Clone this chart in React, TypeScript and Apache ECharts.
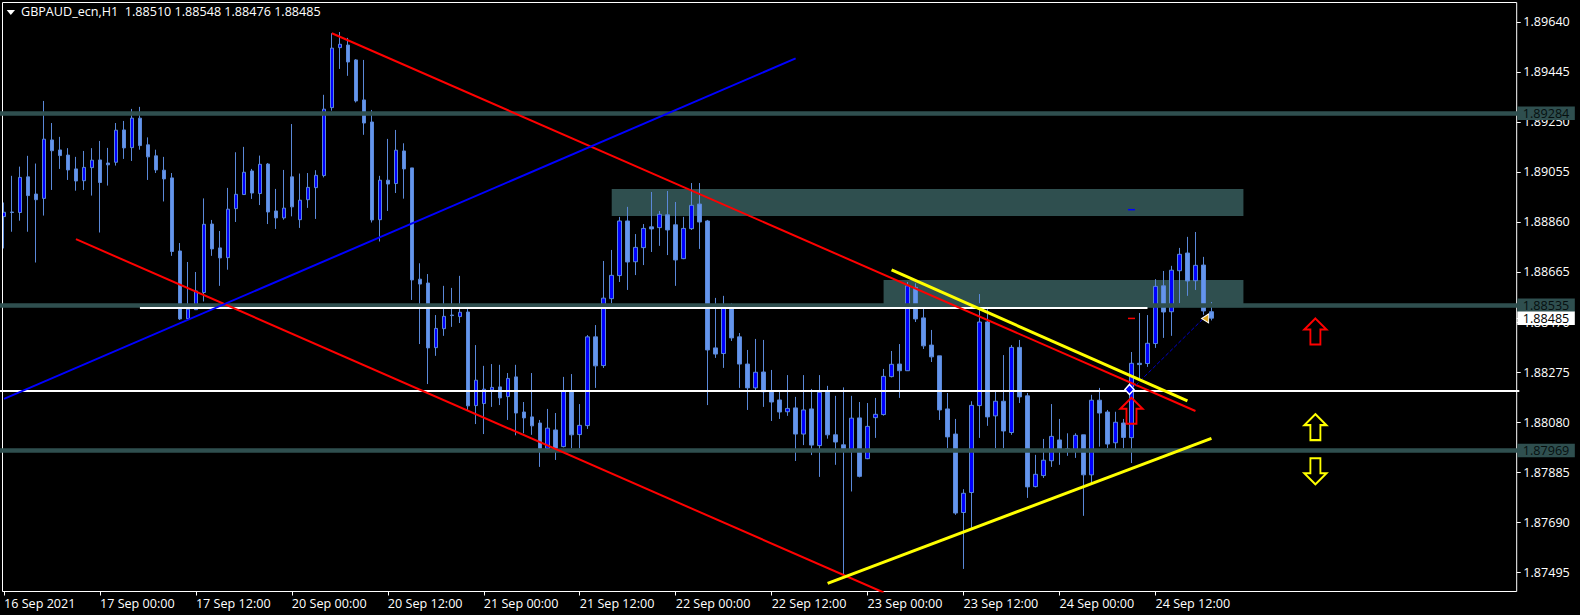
import React, { useEffect, useRef } from "react";
import * as echarts from "echarts";

const opens = [
1.88881,1.88899,1.88897,1.89036,1.88969,1.88952,1.89180,1.89141,1.89121,1.89067,
1.89021,1.89072,1.89102,1.89090,1.89093,1.89219,1.89150,1.89265,1.89161,1.89118,
1.89062,1.89032,1.88747,1.88483,1.88518,1.88585,1.88852,1.88759,1.88721,1.88912,
1.88967,1.89059,1.88971,1.89086,1.88903,1.88876,1.89036,1.88869,1.88947,1.88994,
1.89041,1.89306,1.89540,1.89550,1.89492,1.89336,1.89250,1.88869,1.89023,1.89010,
1.89137,1.89071,1.88637,1.88622,1.88370,1.88444,1.88497,1.88491,1.88509,1.88144,
1.88152,1.88205,1.88217,1.88179,1.88256,1.88119,1.88100,1.88076,1.87977,1.88049,
1.87984,1.88200,1.88031,1.88066,1.88412,1.88300,1.88561,1.88651,1.88864,1.88705,
1.88760,1.88841,1.88838,1.88888,1.88849,1.88717,1.88834,1.88930,1.88864,1.88369,
1.88347,1.88530,1.88412,1.88306,1.88213,1.88275,1.88200,1.88166,1.88120,1.88135,
1.88033,1.88131,1.87988,1.88200,1.88030,1.87991,1.87971,1.88096,1.87937,1.88097,
1.88109,1.88257,1.88306,1.88280,1.88605,1.88486,1.88380,1.88338,1.88131,1.88033,
1.87727,1.87805,1.88144,1.88470,1.88104,1.88161,1.88039,1.88371,1.88182,1.87828,
1.87871,1.87929,1.88010,1.87976,1.87971,1.88030,1.87874,1.88165,1.88119,1.87999,
1.88076,1.88019,1.88309,1.88308,1.88386,1.88611,1.88510,1.88670,1.88739,1.88631,
1.88692,1.88510];

const closes = [
1.88898,1.88897,1.89034,1.88963,1.88947,1.89183,1.89138,1.89119,1.89063,1.89020,
1.89073,1.89101,1.89014,1.89083,1.89218,1.89149,1.89265,1.89158,1.89114,1.89063,
1.89028,1.88745,1.88482,1.88520,1.88591,1.88851,1.88755,1.88720,1.88910,1.88968,
1.89054,1.88973,1.89085,1.88899,1.88876,1.88914,1.88919,1.88945,1.88995,1.89042,
1.89300,1.89538,1.89553,1.89484,1.89332,1.89246,1.88868,1.89023,1.89008,1.89140,
1.89067,1.88634,1.88618,1.88369,1.88445,1.88492,1.88495,1.88508,1.88143,1.88243,
1.88208,1.88215,1.88174,1.88250,1.88115,1.88096,1.88065,1.87977,1.88056,1.87977,
1.88200,1.88030,1.88067,1.88412,1.88299,1.88563,1.88652,1.88864,1.88704,1.88761,
1.88835,1.88833,1.88890,1.88829,1.88712,1.88835,1.88925,1.88860,1.88361,1.88345,
1.88533,1.88408,1.88306,1.88213,1.88274,1.88198,1.88158,1.88119,1.88133,1.88033,
1.88127,1.87990,1.88196,1.88030,1.88002,1.87976,1.88095,1.87868,1.88063,1.88110,
1.88258,1.88305,1.88280,1.88611,1.88482,1.88377,1.88334,1.88127,1.88022,1.87725,
1.87802,1.88145,1.88470,1.88100,1.88161,1.88045,1.88371,1.88178,1.87827,1.87876,
1.87931,1.88024,1.87971,1.87966,1.88028,1.87874,1.88165,1.88115,1.87994,1.88079,
1.88020,1.88309,1.88304,1.88387,1.88609,1.88509,1.88672,1.88734,1.88630,1.88691,
1.88513,1.88485];

const lows = [
1.88757,1.88822,1.88865,1.88822,1.88702,1.88885,1.88985,1.89067,1.89024,1.88982,
1.88985,1.88963,1.88819,1.89002,1.89080,1.89106,1.89098,1.89142,1.89024,1.89051,
1.88940,1.88728,1.88478,1.88478,1.88517,1.88550,1.88728,1.88611,1.88674,1.88860,
1.88966,1.88950,1.88926,1.88852,1.88833,1.88869,1.88882,1.88837,1.88915,1.88872,
1.89034,1.89294,1.89457,1.89430,1.89326,1.89200,1.88858,1.88784,1.88903,1.88973,
1.88951,1.88556,1.88384,1.88228,1.88338,1.88416,1.88451,1.88466,1.88127,1.88072,
1.88033,1.88139,1.88146,1.88088,1.88028,1.88036,1.88030,1.87905,1.87971,1.87932,
1.87981,1.87977,1.87977,1.88053,1.88213,1.88291,1.88543,1.88626,1.88595,1.88653,
1.88692,1.88743,1.88767,1.88731,1.88611,1.88715,1.88829,1.88755,1.88146,1.88330,
1.88291,1.88396,1.88213,1.88127,1.88205,1.88139,1.88084,1.88092,1.88104,1.87928,
1.87990,1.87951,1.87866,1.88015,1.87913,1.87477,1.87809,1.87864,1.87935,1.88018,
1.88105,1.88254,1.88174,1.88279,1.88470,1.88365,1.88314,1.88088,1.87978,1.87718,
1.87507,1.87666,1.88018,1.88065,1.87978,1.87978,1.88030,1.88154,1.87784,1.87825,
1.87862,1.87905,1.87913,1.87948,1.87940,1.87714,1.87838,1.87984,1.87978,1.87971,
1.87978,1.87920,1.88244,1.88295,1.88369,1.88408,1.88416,1.88543,1.88572,1.88595,
1.88498,1.88476];

const highs = [
1.88936,1.89040,1.89076,1.89118,1.89088,1.89332,1.89246,1.89192,1.89148,1.89114,
1.89137,1.89148,1.89176,1.89149,1.89246,1.89254,1.89301,1.89309,1.89190,1.89142,
1.89114,1.89051,1.88778,1.88704,1.88665,1.88952,1.88868,1.88825,1.88993,1.89132,
1.89153,1.89067,1.89119,1.89090,1.88989,1.89063,1.89242,1.89049,1.89051,1.89062,
1.89356,1.89596,1.89601,1.89578,1.89495,1.89492,1.89297,1.89040,1.89184,1.89219,
1.89167,1.89071,1.88699,1.88657,1.88497,1.88611,1.88603,1.88650,1.88521,1.88380,
1.88299,1.88306,1.88303,1.88271,1.88303,1.88158,1.88271,1.88088,1.88131,1.88115,
1.88256,1.88267,1.88150,1.88419,1.88458,1.88708,1.88751,1.88880,1.88919,1.88813,
1.88852,1.88977,1.88903,1.88981,1.88938,1.88880,1.89012,1.89012,1.88868,1.88564,
1.88572,1.88543,1.88427,1.88361,1.88404,1.88400,1.88283,1.88198,1.88263,1.88178,
1.88263,1.88209,1.88263,1.88221,1.88182,1.88215,1.88182,1.88158,1.88154,1.88174,
1.88287,1.88357,1.88384,1.88626,1.88621,1.88527,1.88439,1.88338,1.88193,1.88092,
1.87818,1.88161,1.88579,1.88520,1.88197,1.88341,1.88380,1.88400,1.88193,1.87952,
1.88014,1.88150,1.88092,1.88036,1.88036,1.88030,1.88186,1.88213,1.88127,1.88120,
1.88092,1.88353,1.88505,1.88497,1.88637,1.88669,1.88689,1.88759,1.88802,1.88821,
1.88724,1.88548];

const xTickLabels = [
  "16 Sep 2021", "17 Sep 00:00", "17 Sep 12:00", "20 Sep 00:00", "20 Sep 12:00",
  "21 Sep 00:00", "21 Sep 12:00", "22 Sep 00:00", "22 Sep 12:00", "23 Sep 00:00",
  "23 Sep 12:00", "24 Sep 00:00", "24 Sep 12:00",
];
const yTicks = [1.8964, 1.89445, 1.8925, 1.89055, 1.8886, 1.88665, 1.8847, 1.88275, 1.8808, 1.87885, 1.8769, 1.87495];
const slotCount = 190;
const xSlots = Array.from({ length: slotCount }, (_, i) => String(i));

const levelLines = [1.89284, 1.88535, 1.87969];
const bidPrice = 1.88485;
const chartTitle = "GBPAUD_ecn,H1  1.88510 1.88548 1.88476 1.88485";

const zones = [
  [76, 1.88989, 155, 1.88883],
  [110, 1.88634, 155, 1.88528],
];
const whiteSegments = [
  [[17, 1.88525], [143, 1.88525]],
];
const whiteLevel = 1.88201;
const redLines = [
  [[41, 1.89596], [149, 1.88123]],
  [[9, 1.88793], [110, 1.87415]],
];
const blueLines = [[[0, 1.8817], [99, 1.89498]]];
const yellowLines = [
  [[111, 1.88673], [148, 1.88162]],
  [[103, 1.87451], [151, 1.88016]],
];
const tradeLine = [[141, 1.88207], [150, 1.88484]];
const redUpArrows = [[164, 1.88433], [141, 1.88124]];
const yellowUpArrows = [[164, 1.8806]];
const yellowDownArrows = [[164, 1.87888]];

const UP_ARROW = "path://M11 0L22 11L16 11L16 26L6 26L6 11L0 11Z";
const DOWN_ARROW = "path://M6 0L16 0L16 15L22 15L11 26L0 15L6 15Z";
const FONT = "Open Sans";
const FONT_SIZE = 12.6;

function segmentSeries(segments: number[][][], color: string, width: number, z: number, type = "solid") {
  return segments.map((seg) => ({
    type: "line",
    data: seg,
    showSymbol: false,
    symbol: "none",
    silent: true,
    z,
    lineStyle: { color, width, type },
  }));
}

function arrowSeries(points: number[][], symbol: string, color: string) {
  return {
    type: "scatter",
    data: points,
    symbol,
    symbolSize: [22, 26],
    silent: true,
    z: 8,
    itemStyle: { color: "rgba(0,0,0,0)", borderColor: color, borderWidth: 2, opacity: 1 },
  };
}

const levelLabel = (bg: string) => ({
  show: true,
  position: "end",
  distance: -2,
  formatter: (p: any) => Number(p.value).toFixed(5),
  color: "#060f0f",
  backgroundColor: bg,
  fontFamily: FONT,
  fontSize: FONT_SIZE,
  padding: [0, 5.5, 0, 5.5],
  lineHeight: 13.5,
  align: "left",
  verticalAlign: "middle",
});

export default function App() {
  const ref = useRef<HTMLDivElement>(null);
  useEffect(() => {
    document.body.style.margin = "0";
    document.body.style.background = "#000";
    const chart = echarts.init(ref.current!, undefined, { renderer: "svg" });
    const tickShown = (i: number) => i % 12 === 0 && i / 12 < xTickLabels.length;
    chart.setOption({
      animation: false,
      backgroundColor: "#000000",
      title: {
        text: chartTitle,
        left: 21,
        top: 5,
        padding: 0,
        textStyle: { color: "#ffffff", fontFamily: FONT, fontSize: FONT_SIZE, fontWeight: "normal" },
      },
      grid: { left: -0.7, top: 2.5, width: 1520, height: 589 },
      xAxis: {
        type: "category",
        data: xSlots,
        boundaryGap: true,
        axisLine: { show: false },
        splitLine: { show: false },
        axisTick: { show: true, alignWithLabel: true, length: 4, interval: (i: number) => tickShown(i), lineStyle: { color: "#ffffff" } },
        axisLabel: {
          show: true,
          interval: (i: number) => tickShown(i),
          formatter: (_v: string, i: number) => xTickLabels[i / 12] ?? "",
          color: "#ffffff",
          align: "left",
          margin: 5,
          fontFamily: FONT,
          fontSize: FONT_SIZE,
          hideOverlap: false,
        },
      },
      yAxis: {
        type: "value",
        position: "right",
        offset: -2.6,
        min: 1.87419,
        max: 1.89716,
        scale: true,
        splitLine: { show: false },
        axisLine: { show: false },
        axisTick: { show: true, length: 4, customValues: [...yTicks, bidPrice], lineStyle: { color: "#ffffff" } },
        axisLabel: {
          show: true,
          customValues: yTicks,
          formatter: (v: number) => v.toFixed(5),
          color: "#ffffff",
          margin: 6.6,
          fontFamily: FONT,
          fontSize: FONT_SIZE,
        },
      },
      graphic: [
        { type: "rect", z: 3, silent: true, shape: { x: 0, y: 0, width: 2.2, height: 591 }, style: { fill: "#000000" } },
        { type: "rect", z: 4, silent: true, shape: { x: 2.5, y: 2.5, width: 1514.2, height: 589 }, style: { fill: "none", stroke: "#ffffff", lineWidth: 1 } },
        { type: "polygon", z: 4, silent: true, shape: { points: [[6.7, 10], [15, 10], [10.8, 15]] }, style: { fill: "#ffffff" } },
      ],
      series: [
        {
          type: "candlestick",
          name: "GBPAUD_ecn,H1",
          data: opens.map((o, i) => [o, closes[i], lows[i], highs[i]]),
          barWidth: 4,
          z: 2,
          clip: false,
          silent: true,
          itemStyle: {
            color: "#0000ff",
            color0: "#6495ed",
            borderColor: "#5a88d8",
            borderColor0: "#5a88d8",
            borderWidth: 1,
          },
          markArea: {
            silent: true,
            z: 1,
            precision: 5,
            itemStyle: { color: "#2f4f4f", opacity: 1 },
            data: zones.map(([i0, p0, i1, p1]) => [{ xAxis: i0, yAxis: p0 }, { xAxis: i1, yAxis: p1 }]),
          },
          markLine: {
            silent: true,
            z: 5,
            precision: 5,
            symbol: "none",
            data: [
              ...levelLines.map((p) => ({
                yAxis: p,
                lineStyle: { color: "#2f4f4f", width: 4.5, type: "solid", opacity: 1 },
                label: levelLabel("#2f4f4f"),
              })),
              {
                yAxis: whiteLevel,
                lineStyle: { color: "#ffffff", width: 2, type: "solid", opacity: 1 },
                label: { show: false },
              },
              {
                yAxis: bidPrice,
                lineStyle: { color: "rgba(0,0,0,0)", width: 1, type: "solid", opacity: 1 },
                label: { ...levelLabel("#ffffff"), color: "#000000", opacity: 1 },
              },
            ],
          },
        },
        ...segmentSeries(whiteSegments, "#ffffff", 2, 5),
        ...segmentSeries(redLines, "#ff0000", 2, 6),
        ...segmentSeries(blueLines, "#0000ff", 2, 6),
        ...segmentSeries(yellowLines, "#ffff00", 3, 7),
        ...segmentSeries([tradeLine], "#0000c8", 1, 6, "dashed"),
        arrowSeries(redUpArrows, UP_ARROW, "#ff0000"),
        arrowSeries(yellowUpArrows, UP_ARROW, "#ffff00"),
        arrowSeries(yellowDownArrows, DOWN_ARROW, "#ffff00"),
        {
          type: "scatter",
          data: [[141, 1.88484]],
          symbol: "rect",
          symbolSize: [7, 1.5],
          silent: true,
          z: 8,
          itemStyle: { color: "#ff0000", opacity: 1 },
        },
        {
          type: "scatter",
          data: [[141, 1.88908]],
          symbol: "rect",
          symbolSize: [7, 1.5],
          silent: true,
          z: 8,
          itemStyle: { color: "#0000ff", opacity: 1 },
        },
        {
          type: "scatter",
          data: [tradeLine[0]],
          symbol: "diamond",
          symbolSize: [9, 10],
          symbolOffset: [-2, 0],
          silent: true,
          z: 9,
          itemStyle: { color: "#0000ff", borderColor: "#ffffff", borderWidth: 1.5, opacity: 1 },
        },
        {
          type: "scatter",
          data: [tradeLine[1]],
          symbol: "triangle",
          symbolSize: [9, 7],
          symbolRotate: 90,
          symbolOffset: [1.7, 0],
          silent: true,
          z: 9,
          itemStyle: { color: "#daa520", borderColor: "#ffffff", borderWidth: 1, opacity: 1 },
        },
      ],
    });
    return () => chart.dispose();
  }, []);
  return <div ref={ref} style={{ width: 1580, height: 615 }} />;
}
